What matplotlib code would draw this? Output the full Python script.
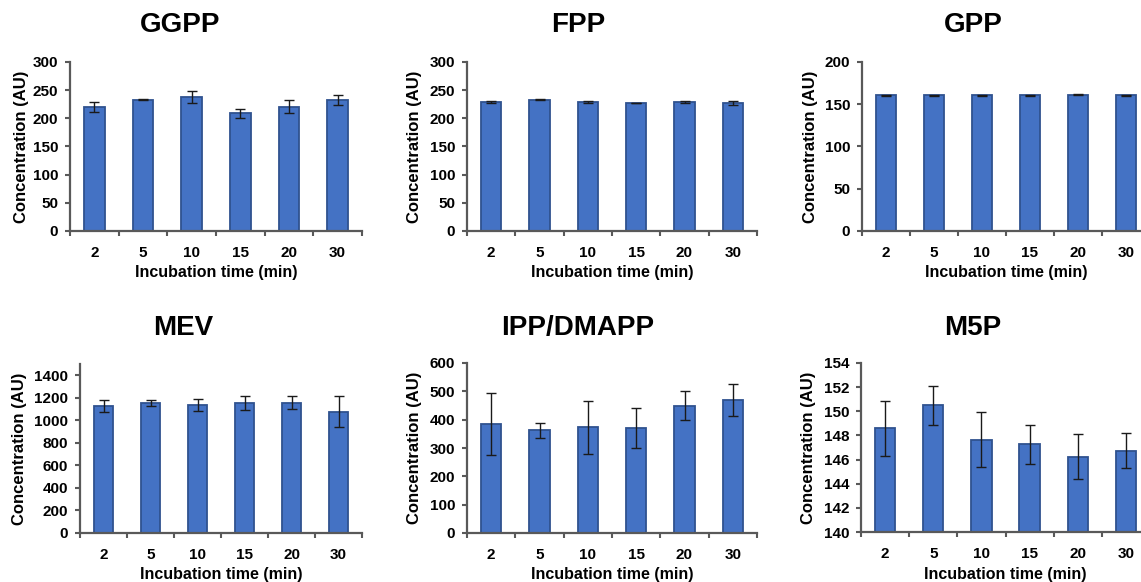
import matplotlib
matplotlib.use("Agg")
import matplotlib.pyplot as plt
from matplotlib.ticker import FixedLocator

plt.rcParams['font.family'] = ['Liberation Sans', 'DejaVu Sans']
plt.rcParams['font.weight'] = 'bold'

# Data
times = ["2", "5", "10", "15", "20", "30"]

ggpp = [220, 233, 238, 209, 221, 232]
ggpp_err = [9, 1, 10, 8, 11.5, 9]

fpp = [229, 233, 229, 227, 229, 227]
fpp_err = [1, 1, 2, 0.5, 1.5, 3]

gpp = [160.5, 160.5, 160.5, 160.5, 161.5, 160.5]
gpp_err = [0.4, 0.3, 0.4, 0.3, 0.4, 0.3]

mev = [1127, 1156, 1133, 1150, 1156, 1077]
mev_err = [55, 27, 53, 62, 59, 135]

ipp = [385, 362, 373, 370, 449, 470]
ipp_err = [109, 25, 94, 70, 51, 56]

m5p = [148.6, 150.5, 147.65, 147.25, 146.25, 146.75]
m5p_err = [2.27, 1.63, 2.27, 1.6, 1.87, 1.48]

W, H = 1141, 582
BAR = "#4472C4"
EDGE = "#2F528F"
AXIS = "#595959"

# (title, values, errors, ylim, yticks, axes box in px: left, top, right, bottom, title centre px)
panels = [
    ("GGPP", ggpp, ggpp_err, (0, 300), range(0, 301, 50), (70, 62, 362, 231), (180, 25)),
    ("FPP", fpp, fpp_err, (0, 300), range(0, 301, 50), (467, 62, 757, 231), (578, 25)),
    ("GPP", gpp, gpp_err, (0, 200), range(0, 201, 50), (862, 62, 1150, 231), (973, 25)),
    ("MEV", mev, mev_err, (0, 1500), range(0, 1401, 200), (80, 364, 362, 533), (183, 328)),
    ("IPP/DMAPP", ipp, ipp_err, (0, 600), range(0, 601, 100), (467, 363, 757, 533), (578, 328)),
    ("M5P", m5p, m5p_err, (140, 154), range(140, 155, 2), (861, 363, 1150, 532), (973, 328)),
]

fig = plt.figure(figsize=(W / 100, H / 100), dpi=100)

for title, vals, errs, ylim, yticks, box, tpos in panels:
    l, t, r, b = box
    ax = fig.add_axes([l / W, 1 - b / H, (r - l) / W, (b - t) / H])
    x = list(range(len(times)))
    ax.bar(x, vals, width=0.42, color=BAR, edgecolor=EDGE, linewidth=1.3, zorder=2)
    ax.errorbar(x, vals, yerr=errs, fmt="none", ecolor="#1a1a1a",
                elinewidth=1, capsize=3.5, capthick=1, zorder=3)
    ax.set_xlim(-0.5, len(times) - 0.5)
    ax.set_ylim(*ylim)
    ax.set_yticks(list(yticks))
    ax.set_xticks(x)
    ax.set_xticklabels(times)
    ax.xaxis.set_minor_locator(FixedLocator([i - 0.5 for i in range(len(times) + 1)]))
    ax.tick_params(axis="x", which="major", length=0, pad=11, labelsize=11)
    ax.tick_params(axis="x", which="minor", length=3.5, width=1.5, color=AXIS)
    ax.tick_params(axis="y", length=3.5, width=1.5, color=AXIS, pad=5, labelsize=11)
    for s in ("top", "right"):
        ax.spines[s].set_visible(False)
    for s in ("left", "bottom"):
        ax.spines[s].set_color(AXIS)
        ax.spines[s].set_linewidth(1.6)
    for lab in ax.get_xticklabels() + ax.get_yticklabels():
        lab.set_fontweight("bold")

    ax.set_xlabel("Incubation time (min)", fontsize=11.5, fontweight="bold")
    ax.xaxis.label.set_va("center")
    ax.xaxis.set_label_coords(0.5, -42 / (b - t))
    ax.set_ylabel("Concentration (AU)", fontsize=12, fontweight="bold")
    ax.yaxis.label.set_va("center")
    yl_off = 49 if l == 70 else (60 if l == 80 else 52)
    ax.yaxis.set_label_coords(-yl_off / (r - l), 0.5)

    fig.text(tpos[0] / W, 1 - tpos[1] / H, title, ha="center", va="center",
             fontsize=20, fontweight="bold")

fig.savefig("out.png", dpi=100)
